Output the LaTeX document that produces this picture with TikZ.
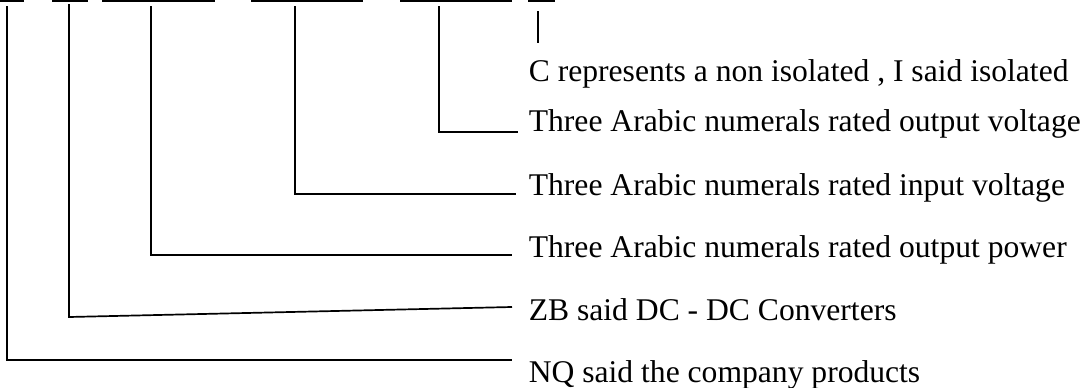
\documentclass[tikz,border=0pt]{standalone}
\usepackage{fontspec}
\setmainfont{Liberation Serif}
\begin{document}
\begin{tikzpicture}[x=1pt, y=-1pt, line width=1.7pt,
		lbl/.style={anchor=base west, inner sep=0pt, font=\fontsize{31.6}{38}\selectfont}]
			\useasboundingbox (0,0) rectangle (1087,388);
			\foreach \a/\b in {0/24,52/88,102/215,251/363,400/512,528/555} \fill (\a,0) rectangle (\b,2);
			\node[lbl] (iso) at (528,81) {C represents a non isolated , I said isolated};
			\node[lbl] (vout) at (528,131) {Three Arabic numerals rated output voltage};
			\node[lbl] (vin) at (528,195) {Three Arabic numerals rated input voltage};
			\node[lbl] (pout) at (528,257) {Three Arabic numerals rated output power};
			\node[lbl] (zb) at (528,320) {ZB said DC - DC Converters};
			\node[lbl] (nq) at (528,382) {NQ said the company products};
			\coordinate (isotop) at (538,11);
			\coordinate (isoend) at (538,43);
			\coordinate (vouttop) at (439,6);
			\coordinate (voutend) at (518,132);
			\coordinate (vintop) at (295,6);
			\coordinate (vinend) at (516,194);
			\coordinate (pouttop) at (151,6);
			\coordinate (poutend) at (512,255);
			\coordinate (zbtop) at (69,4);
			\coordinate (zbcorner) at (69,317);
			\coordinate (zbend) at (512,307);
			\coordinate (nqtop) at (7,6);
			\coordinate (nqend) at (512,360);
			\draw (isotop) -- (isoend);
			\draw (vouttop) |- (voutend);
			\draw (vintop) |- (vinend);
			\draw (pouttop) |- (poutend);
			\draw (zbtop) -- (zbcorner) -- (zbend);
			\draw (nqtop) |- (nqend);
		\end{tikzpicture}
\end{document}
